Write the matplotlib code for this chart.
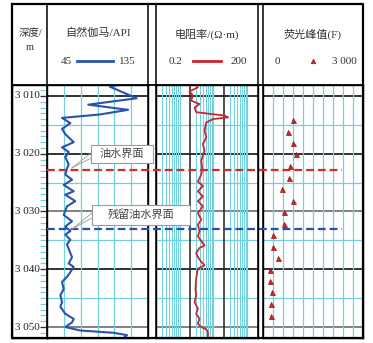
import matplotlib
matplotlib.use("Agg")
import matplotlib.pyplot as plt
from matplotlib.transforms import blended_transform_factory
import numpy as np

# ---------------- DATA ----------------
gr_depth = [3008.1, 3008.4, 3010.4, 3011.5, 3012.4, 3013.2, 3013.8, 3014.7, 3015.7, 3016.6,
            3018.0, 3018.9, 3019.7, 3020.6, 3021.8, 3022.6, 3023.6, 3024.5, 3025.4, 3026.5,
            3027.1, 3028.2, 3029.1, 3030.6, 3031.7, 3032.6, 3033.4, 3034.0, 3034.9, 3035.7,
            3037.2, 3037.9, 3039.0, 3039.6, 3040.5, 3041.3, 3042.2, 3043.4, 3044.5, 3045.7,
            3046.5, 3047.7, 3048.6, 3049.2, 3050.0, 3050.6, 3051.0, 3051.4, 3051.9]
gr_value = [108.3, 101.1, 124.9, 81.8, 117.2, 92.2, 58.4, 65.8, 58.4, 61.3,
            68.8, 58.4, 64.3, 61.3, 64.3, 62.8, 61.3, 67.3, 59.9, 68.8,
            61.3, 70.2, 62.8, 59.9, 67.3, 61.3, 65.8, 61.3, 65.8, 62.8,
            65.8, 67.3, 64.3, 68.8, 65.8, 62.8, 58.4, 59.9, 56.9, 58.4,
            56.9, 61.3, 68.8, 67.3, 61.3, 74.7, 104.4, 116.3, 113.3]

res_depth = [3008.1, 3008.5, 3009.2, 3009.9, 3010.8, 3011.4, 3012.0, 3012.8, 3013.4, 3013.7,
             3014.0, 3014.6, 3016.0, 3017.2, 3018.3, 3019.5, 3021.2, 3022.6, 3023.6, 3024.8,
             3025.6, 3026.5, 3027.4, 3028.2, 3029.1, 3030.3, 3031.4, 3032.3, 3033.4, 3034.3,
             3035.5, 3035.9, 3036.3, 3037.2, 3037.9, 3038.7, 3039.3, 3039.9, 3041.6, 3043.4,
             3044.5, 3045.7, 3046.8, 3047.7, 3048.6, 3049.4, 3050.0, 3050.4, 3050.9, 3051.9]
res_value = [3.08, 3.46, 1.95, 2.46, 2.19, 3.86, 2.75, 3.08, 21.3, 27.0,
             9.66, 6.11, 5.44, 6.11, 4.88, 5.44, 4.35, 4.65, 4.35, 3.46,
             4.88, 3.46, 4.88, 3.46, 4.88, 3.46, 4.35, 3.46, 3.86, 3.46,
             4.88, 5.44, 3.86, 3.08, 3.46, 4.35, 5.44, 3.46, 3.08, 2.94,
             3.08, 2.75, 3.46, 3.08, 3.86, 3.46, 4.35, 6.11, 6.86, 6.86]

fl_depth = [3014.2, 3016.2, 3018.1, 3020.1, 3022.1, 3024.2, 3026.1, 3028.1, 3030.1,
            3032.1, 3034.1, 3036.1, 3038.1, 3040.1, 3042.1, 3044.0, 3046.1, 3048.1]
fl_value = [910, 760, 890, 1000, 810, 780, 560, 890, 640,
            620, 310, 300, 460, 220, 210, 280, 250, 250]

depth_ticks = [3010, 3020, 3030, 3040, 3050]
depth_labels = ["3 010", "3 020", "3 030", "3 040", "3 050"]
owc_depth = 3022.8
rowc_depth = 3033.1
owc_label = "油水界面"
rowc_label = "残留油水界面"

# ---------------- STYLE ----------------
W, H = 373, 343
CYAN = "#74d0dc"
BLUE = "#2a52ae"
RED = "#c9272d"
FONT = ["Liberation Serif", "Noto Sans CJK SC", "DejaVu Sans"]
plt.rcParams["font.family"] = FONT

fig = plt.figure(figsize=(W / 100, H / 100), dpi=100)
fig.patch.set_facecolor("white")

TOP, HDR, BOT = 4, 85, 338
DMIN, DMAX = 3008.1, 3051.9


def px_axes(x0, x1, y0, y1, **kw):
    return fig.add_axes([x0 / W, 1 - y1 / H, (x1 - x0) / W, (y1 - y0) / H], **kw)


def setup_track(ax):
    ax.set_ylim(DMAX, DMIN)
    ax.set_xticks([])
    ax.set_yticks([])
    ax.tick_params(which="both", length=0)
    for s in ax.spines.values():
        s.set_color("black")
        s.set_linewidth(1.0)
    for d in range(3010, 3051, 5):
        if d % 10 == 0:
            col = "#777777" if d in (3030, 3050) else "#222222"
            ax.axhline(d, color=col, lw=1.3, zorder=1)
        else:
            ax.axhline(d, color=CYAN, lw=0.9, zorder=1)


# depth column
axd = px_axes(12, 47, HDR, BOT)
axd.set_ylim(DMAX, DMIN)
axd.set_xlim(0, 1)
axd.set_xticks([])
axd.set_yticks(depth_ticks)
axd.set_yticklabels([])
axd.set_yticks(np.arange(3009, 3052, 1), minor=True)
axd.yaxis.set_ticks_position("right")
axd.tick_params(axis="y", which="major", direction="in", length=5, color="#333333", width=1)
axd.tick_params(axis="y", which="minor", direction="in", length=5, color=CYAN, width=0.9)
for s in axd.spines.values():
    s.set_linewidth(1.0)
for d, lab in zip(depth_ticks, depth_labels):
    axd.text(0.8, d, lab, transform=blended_transform_factory(axd.transAxes, axd.transData),
             ha="right", va="center", fontsize=8, family=FONT, color="#222222")

# GR track
axg = px_axes(47, 148, HDR, BOT)
setup_track(axg)
axg.set_xlim(45, 135)
for v in range(60, 121, 15):
    axg.axvline(v, color=CYAN, lw=0.9, zorder=1)
axg.plot(gr_value, gr_depth, color=BLUE, lw=1.5, zorder=3)

# Resistivity track
axr = px_axes(156, 257.5, HDR, BOT)
axr.set_xscale("log")
setup_track(axr)
axr.set_xlim(0.2, 200)
axr.minorticks_off()
axr.set_xticks([], minor=True)
for dec in [0.1, 1, 10, 100]:
    for k in range(1, 10):
        v = k * dec
        if 0.2 < v < 200 and k != 2:
            axr.axvline(v, color=CYAN, lw=0.8, zorder=1)
for v in [2, 20]:
    axr.axvline(v, color="#222222", lw=1.1, zorder=1)
axr.plot(res_value, res_depth, color=RED, lw=1.3, zorder=3)

# Fluorescence track
axf = px_axes(263, 363, HDR, BOT)
setup_track(axf)
axf.set_xlim(0, 3000)
for v in range(300, 3000, 300):
    axf.axvline(v, color=CYAN, lw=0.9, zorder=1)
axf.plot(fl_value, fl_depth, ls="none", marker="^", ms=3.6, mfc="#d82424",
         mec="#8a1515", mew=0.5, zorder=3)

# ---------------- overlay (header, frame, markers) ----------------
ov = fig.add_axes([0, 0, 1, 1], zorder=10)
ov.set_xlim(0, W)
ov.set_ylim(H, 0)
ov.axis("off")
ov.patch.set_alpha(0)

# frame lines
ov.plot([12, 363, 363, 12, 12], [TOP, TOP, BOT, BOT, TOP], color="black", lw=1.6)
ov.plot([12, 363], [HDR, HDR], color="black", lw=1.3)
for x in [47, 148, 156, 257.5, 263]:
    ov.plot([x, x], [TOP, BOT], color="black", lw=1.1)

# header texts
ov.text(30, 33, "深度/", ha="center", va="center", fontsize=7.5, color="#333333")
ov.text(30, 47, "m", ha="center", va="center", fontsize=7.5, color="#333333")
ov.text(97.5, 33, "自然伽马/API", ha="center", va="center", fontsize=8, color="#333333")
ov.text(207, 34, "电阻率/(Ω·m)", ha="center", va="center", fontsize=8, color="#333333")
ov.text(313, 34, "荧光峰值(F)", ha="center", va="center", fontsize=8, color="#333333")

ov.text(66.5, 61, "45", ha="center", va="center", fontsize=8, color="#333333")
ov.plot([77, 113], [61, 61], color=BLUE, lw=2)
ov.text(127.5, 61, "135", ha="center", va="center", fontsize=8, color="#333333")

ov.text(175.5, 61, "0.2", ha="center", va="center", fontsize=8, color="#333333")
ov.plot([193, 221], [61, 61], color=RED, lw=2)
ov.text(238.5, 61, "200", ha="center", va="center", fontsize=8, color="#333333")

ov.text(277, 61, "0", ha="center", va="center", fontsize=8, color="#333333")
ov.plot([313], [61], ls="none", marker="^", ms=3.2, mfc="#d82424", mec="#8a1515", mew=0.5)
ov.text(344, 61, "3 000", ha="center", va="center", fontsize=8, color="#333333")

# interface dashed lines (x in px, y in depth)
bt = blended_transform_factory(ov.transData, axg.transData)
ov.plot([47, 342], [owc_depth, owc_depth], transform=bt, color="#d42a2a", lw=1.6,
        dashes=(3.5, 1.8), clip_on=False)
ov.plot([47, 342], [rowc_depth, rowc_depth], transform=bt, color="#2a4fa8", lw=1.6,
        dashes=(3.5, 1.8), clip_on=False)

# callouts
for (bx0, by0, bx1, by1, tx, txt, tipy) in [
        (91, 145, 153, 163, 122, owc_label, 168),
        (92, 205, 190, 225, 141, rowc_label, 229)]:
    ov.add_patch(plt.Rectangle((bx0, by0), bx1 - bx0, by1 - by0, facecolor="white",
                               edgecolor="#9a9a9a", lw=0.8, zorder=5))
    ov.text(tx, (by0 + by1) / 2, txt, ha="center", va="center", fontsize=8,
            color="#444444", zorder=6, family=["Noto Sans CJK SC"])
    ov.plot([bx0, 72], [by0 + 8, tipy], color="#9a9a9a", lw=0.6, zorder=4)
    ov.plot([bx0, 72], [by0 + 13, tipy], color="#9a9a9a", lw=0.6, zorder=4)

fig.savefig("out.png", dpi=100, facecolor="white")
